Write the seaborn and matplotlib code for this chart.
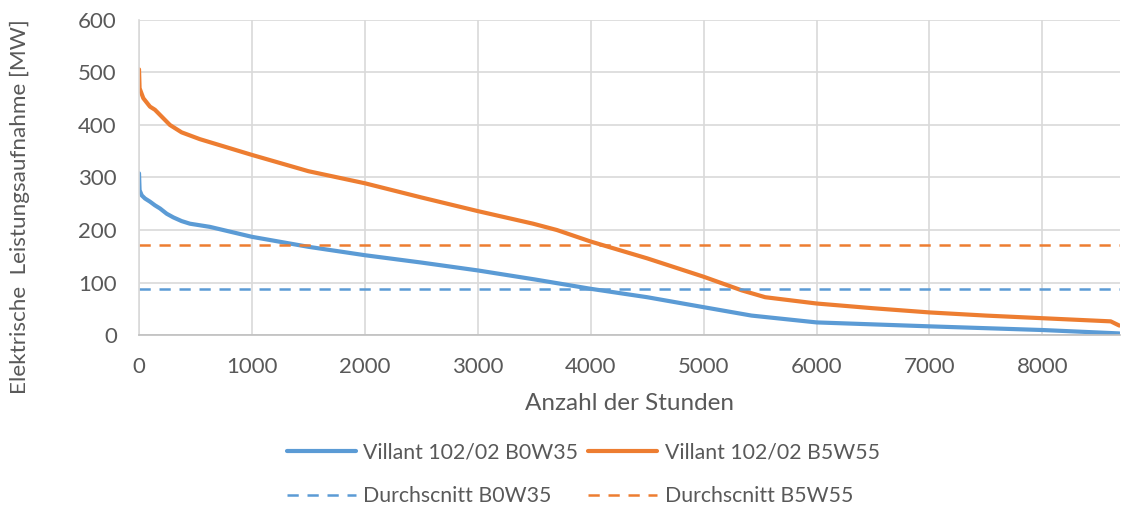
import matplotlib.pyplot as plt
import seaborn as sns
import pandas as pd

# values (hours sorted by power)
hours_b0w35 = [0, 5, 24, 53, 97, 141, 186, 245, 304, 377, 451, 627, 1000, 1500,
               2000, 2500, 3000, 3500, 4000, 4500, 5000, 5424, 6000, 7000, 8000,
               8681]
power_b0w35 = [308, 276, 266, 260, 254, 247, 241, 231, 224, 217, 212, 206, 187,
               168, 152, 138, 123, 106, 88, 72, 53, 37, 24, 16.5, 9.5, 3]

hours_b5w55 = [0, 5, 38, 97, 141, 274, 377, 539, 1000, 1500, 2000, 2500, 3000,
               3490, 3700, 4000, 4500, 5000, 5338, 5545, 6000, 6500, 7000, 7500,
               8000, 8605, 8681]
power_b5w55 = [506, 470, 451, 435, 429, 400, 386, 373, 343, 312, 289, 262, 236,
               212, 200, 178, 146, 111, 85, 72, 60, 51, 43, 37,
               32, 26, 18]

avg_b0w35 = 88
avg_b5w55 = 171

labels = ["Villant 102/02 B0W35", "Villant 102/02 B5W55",
          "Durchscnitt B0W35", "Durchscnitt B5W55"]
BLUE = "#5B9BD5"
ORANGE = "#ED7D31"
GREY = "#595959"

sns.set_theme(style="whitegrid")
plt.rcParams['font.family'] = ['Lato', 'DejaVu Sans']

fig = plt.figure(figsize=(11.22, 5.11), dpi=100)
ax = fig.add_axes([0.1239, 0.3444, 0.8741, 0.6165])

df1 = pd.DataFrame({"h": hours_b0w35, "p": power_b0w35})
df2 = pd.DataFrame({"h": hours_b5w55, "p": power_b5w55})
sns.lineplot(data=df1, x="h", y="p", ax=ax, color=BLUE, lw=3, label=labels[0])
sns.lineplot(data=df2, x="h", y="p", ax=ax, color=ORANGE, lw=3, label=labels[1])
ax.axhline(avg_b0w35, color=BLUE, lw=1.8, ls=(0, (4.5, 3.5)), label=labels[2])
ax.axhline(avg_b5w55, color=ORANGE, lw=1.8, ls=(0, (4.5, 3.5)), label=labels[3])

ax.set_xlim(0, 8685)
ax.set_ylim(0, 600)
ax.set_xticks(range(0, 8001, 1000))
ax.set_yticks(range(0, 601, 100))
ax.grid(True, color="#D9D9D9", lw=1.2)
ax.set_facecolor("white")
for s in ["top", "right"]:
    ax.spines[s].set_visible(False)
ax.spines["left"].set_color("#D9D9D9")
ax.spines["bottom"].set_color("#BFBFBF")
ax.spines["left"].set_linewidth(1.2)
ax.spines["bottom"].set_linewidth(1.2)
ax.tick_params(axis="both", labelsize=16, colors=GREY, length=0)
ax.tick_params(axis="y", pad=16)
ax.tick_params(axis="x", pad=16)

ax.set_xlabel("Anzahl der Stunden", fontsize=17.5, color=GREY)
ax.set_ylabel("Elektrische  Leistungsaufnahme [MW]", fontsize=16.2, color=GREY)
ax.xaxis.set_label_coords(0.5, -0.185)
ax.yaxis.set_label_coords(-0.111, 0.406)

h, l = ax.get_legend_handles_labels()
order = [0, 2, 1, 3]
leg = fig.legend([h[i] for i in order], [l[i] for i in order], ncol=2,
                 loc="center", bbox_to_anchor=(0.52, 0.072), frameon=False,
                 fontsize=15.3, handlelength=3.25, handletextpad=0.33,
                 columnspacing=0.47, labelspacing=1.12, borderpad=0.2)
ax.get_legend().remove() if ax.get_legend() else None
for t in leg.get_texts():
    t.set_color(GREY)

fig.savefig("out.png", dpi=100)
